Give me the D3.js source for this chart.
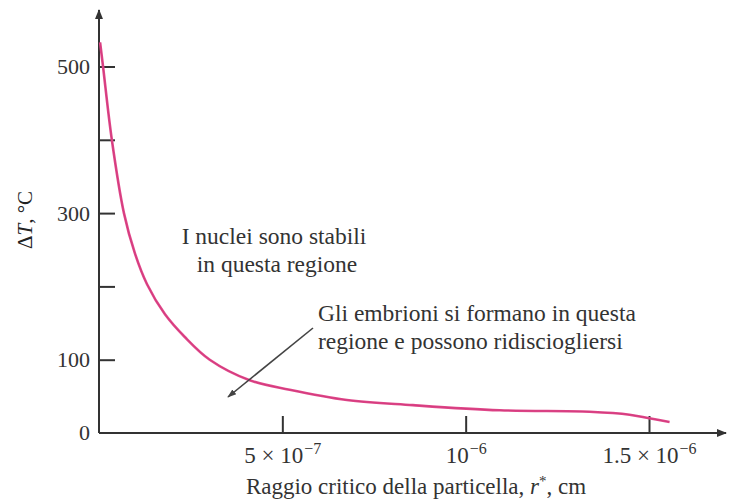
<!DOCTYPE html>
<html>
<head>
<meta charset="utf-8">
<script src="https://cdn.jsdelivr.net/npm/d3@7"></script>
<style>
  html, body { margin: 0; padding: 0; background: #fff; }
  svg { display: block; font-family: "Liberation Serif", "DejaVu Serif", serif; }
</style>
</head>
<body>
<svg id="chart" width="729" height="504"></svg>
<script>
// Critical particle radius r* (cm) and undercooling ΔT (°C)
const radiusCm = [0.03e-7, 0.11e-7, 0.35e-7, 0.68e-7, 0.98e-7, 1.31e-7, 1.80e-7, 2.34e-7, 3.02e-7,
                  4.11e-7, 5.20e-7, 6.76e-7, 8.56e-7, 10.93e-7, 13.38e-7, 14.47e-7, 15.01e-7, 15.56e-7];
const deltaT   = [533, 500, 400, 300, 245, 203, 162, 131, 100,
                  72, 59, 45, 38, 31, 29, 25, 20, 15];

const yTickValues = [100, 200, 300, 400, 500];
const yTickLabels = ["100", "", "300", "", "500"];
const xTickValues = [5e-7, 1e-6, 1.5e-6];
const xTickMantissa = ["5 × 10", "10", "1.5 × 10"];
const xTickExponent = ["−7", "−6", "−6"];

const stableText = ["I nuclei sono stabili", "in questa regione"];
const embryoText = ["Gli embrioni si formano in questa", "regione e possono ridisciogliersi"];

const svg = d3.select("#chart");
const ink = "#333";

const x = d3.scaleLinear().domain([0, 1.5e-6]).range([99, 649]);
const y = d3.scaleLinear().domain([0, 500]).range([433, 66.5]);
const xEnd = 1.71e-6, yEnd = 577;

// arrowheads
const defs = svg.append("defs");
defs.append("marker").attr("id", "axisArrow")
  .attr("viewBox", "0 0 10 10").attr("refX", 9).attr("refY", 5)
  .attr("markerWidth", 10).attr("markerHeight", 10).attr("markerUnits", "userSpaceOnUse")
  .attr("orient", "auto")
  .append("path").attr("d", "M0,1 L10,5 L0,9 Z").attr("fill", ink);
defs.append("marker").attr("id", "noteArrow")
  .attr("viewBox", "0 0 10 10").attr("refX", 9).attr("refY", 5)
  .attr("markerWidth", 9).attr("markerHeight", 9).attr("markerUnits", "userSpaceOnUse")
  .attr("orient", "auto")
  .append("path").attr("d", "M0,1.5 L10,5 L0,8.5 Z").attr("fill", "#444");

// y axis: inward ticks, labels on selected ticks only
const yAxis = d3.axisLeft(y).tickValues(yTickValues)
  .tickSizeInner(-16).tickSizeOuter(0).tickPadding(10)
  .tickFormat((d, i) => yTickLabels[i]);
const gy = svg.append("g").attr("transform", `translate(${x(0)},0)`).call(yAxis);
gy.select(".domain").remove();
gy.selectAll(".tick line").attr("stroke", ink).attr("stroke-width", 2);
gy.selectAll(".tick text").attr("fill", ink).attr("font-size", 22)
  .attr("font-family", "Liberation Serif, serif").attr("x", -9).attr("dy", "0.33em");
// zero label at the origin
svg.append("text").attr("x", x(0) - 9).attr("y", y(0)).attr("dy", "0.33em")
  .attr("text-anchor", "end").attr("font-size", 22).attr("fill", ink).text("0");

// x axis: inward ticks with power-of-ten labels
const xAxis = d3.axisBottom(x).tickValues(xTickValues)
  .tickSizeInner(-17).tickSizeOuter(0).tickFormat("");
const gx = svg.append("g").attr("transform", `translate(0,${y(0)})`).call(xAxis);
gx.select(".domain").remove();
gx.selectAll(".tick line").attr("stroke", ink).attr("stroke-width", 2);
gx.selectAll(".tick").each(function(d, i) {
  const t = d3.select(this).append("text")
    .attr("y", 30).attr("text-anchor", "middle")
    .attr("fill", ink).attr("font-size", 23).attr("font-family", "Liberation Serif, serif");
  t.append("tspan").text(xTickMantissa[i]);
  t.append("tspan").attr("dy", -9).attr("dx", 1).attr("font-size", 16).text(xTickExponent[i]);
});

// axis lines with arrowheads
svg.append("line").attr("x1", x(0)).attr("y1", y(0)).attr("x2", x(0)).attr("y2", y(yEnd))
  .attr("stroke", ink).attr("stroke-width", 2).attr("marker-end", "url(#axisArrow)");
svg.append("line").attr("x1", x(0)).attr("y1", y(0)).attr("x2", x(xEnd)).attr("y2", y(0))
  .attr("stroke", ink).attr("stroke-width", 2).attr("marker-end", "url(#axisArrow)");

// critical radius curve
const line = d3.line().x((d, i) => x(radiusCm[i])).y(d => y(d)).curve(d3.curveCatmullRom.alpha(0.5));
svg.append("path").datum(deltaT).attr("d", line)
  .attr("fill", "none").attr("stroke", "#e0488a").attr("stroke-width", 2.6);
svg.append("path").datum(deltaT).attr("d", line)
  .attr("fill", "none").attr("stroke", "#c42c70").attr("stroke-width", 0.8).attr("opacity", 0.6);

// region notes
const stable = svg.append("text").attr("text-anchor", "middle").attr("font-size", 23.5).attr("fill", ink);
stable.append("tspan").attr("x", 274).attr("y", 244).text(stableText[0]);
stable.append("tspan").attr("x", 277).attr("y", 272).text(stableText[1]);

const embryo = svg.append("text").attr("font-size", 23.5).attr("fill", ink);
embryo.append("tspan").attr("x", 318).attr("y", 321).text(embryoText[0]);
embryo.append("tspan").attr("x", 318).attr("y", 349).text(embryoText[1]);

svg.append("line").attr("x1", 313).attr("y1", 328).attr("x2", 228).attr("y2", 397)
  .attr("stroke", "#444").attr("stroke-width", 1.6).attr("marker-end", "url(#noteArrow)");

// axis titles
const xt = svg.append("text").attr("x", 416).attr("y", 494).attr("text-anchor", "middle")
  .attr("font-size", 23).attr("fill", ink);
xt.append("tspan").text("Raggio critico della particella, ");
xt.append("tspan").attr("font-style", "italic").text("r");
xt.append("tspan").attr("dy", -8).attr("font-size", 15).text("*");
xt.append("tspan").attr("dy", 8).text(", cm");

const yt = svg.append("text").attr("transform", "translate(32,220) rotate(-90)")
  .attr("text-anchor", "middle").attr("font-size", 21).attr("fill", "#222");
yt.append("tspan").text("Δ");
yt.append("tspan").attr("font-style", "italic").text("T");
yt.append("tspan").text(", °C");
</script>
</body>
</html>
